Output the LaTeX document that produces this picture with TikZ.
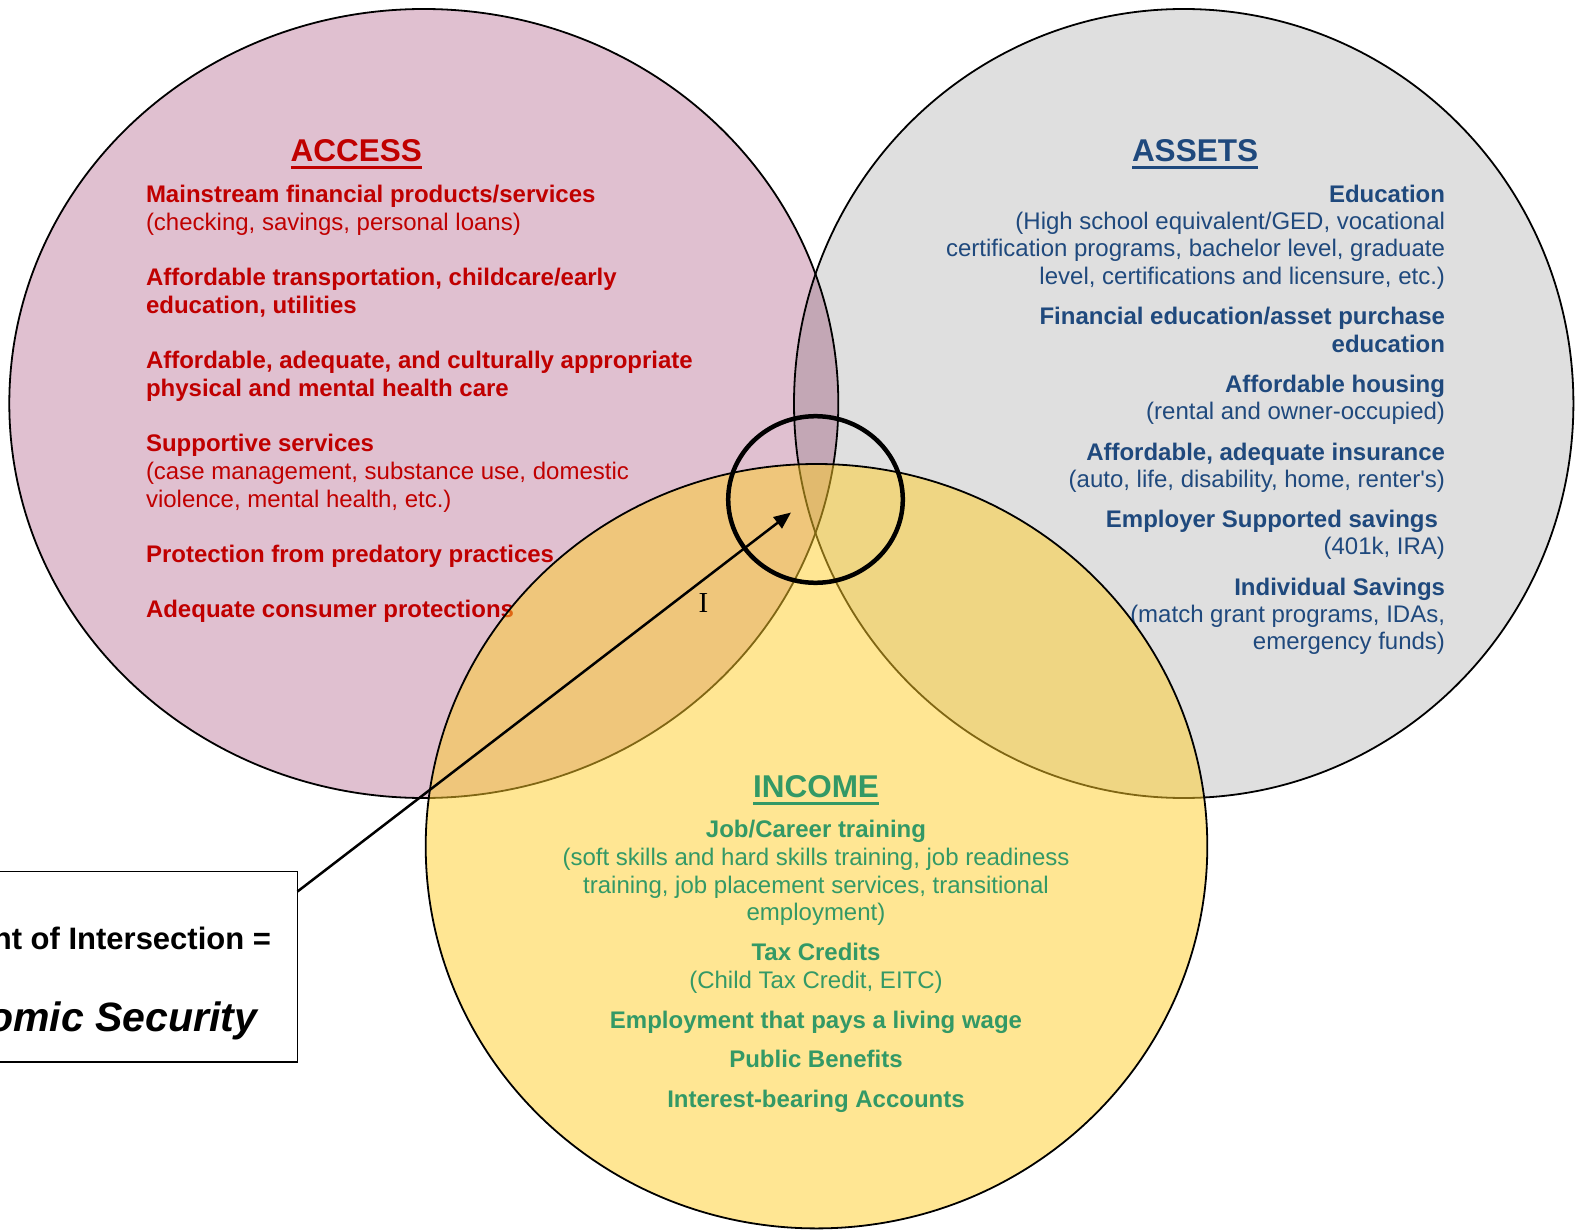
\documentclass[tikz,border=0pt]{standalone}
\usepackage{fontspec}
\setmainfont{Liberation Sans}[Ligatures=TeXOff]
\newfontfamily\serifI{Liberation Serif}
\usetikzlibrary{arrows.meta,shapes.geometric}
\definecolor{accred}{RGB}{192,0,0}
\definecolor{asblue}{RGB}{31,73,125}
\definecolor{incgreen}{RGB}{51,153,102}
\definecolor{pinkfill}{RGB}{224,192,208}
\definecolor{yelbase}{RGB}{255,205,40}
\newcommand\titleul[1]{\setbox0=\hbox{#1}\rlap{\rule[-7.5pt]{\wd0}{3pt}}\box0}
\tikzset{
  txt/.style={inner sep=0pt, outer sep=0pt},
  rb/.style={txt, font=\fontsize{24}{28}\selectfont\bfseries},
  rr/.style={txt, font=\fontsize{24}{28}\selectfont},
  ttl/.style={txt, anchor=base, font=\fontsize{31.5}{36}\selectfont\bfseries},
  venn/.style={draw=black, line width=1.8pt},
}
\begin{document}
\begin{tikzpicture}[x=1pt,y=-1pt]
\useasboundingbox (0,0) rectangle (1576,1230);
\clip (0,0) rectangle (1576,1230);
% circles
\draw[venn, fill=pinkfill] (423.8,403.5) ellipse [x radius=414.5pt, y radius=394.5pt];
\draw[venn, fill=black, fill opacity=0.125] (1183.7,403.5) ellipse [x radius=389.7pt, y radius=394.5pt];
% ACCESS
\begin{scope}[text=accred, nodes={anchor=base west}]
\node[ttl, anchor=base] (acct) at (356.3,162) {\titleul{ACCESS}};
\node[rb] (a1) at (146,202.5) {Mainstream financial products/services};
\node[rr] (a2) at (146,230.2) {(checking, savings, personal loans)};
\node[rb] (a3) at (146,285.5) {Affordable transportation, childcare/early};
\node[rb] (a4) at (146,313.2) {education, utilities};
\node[rb] (a5) at (146,368.6) {Affordable, adequate, and culturally appropriate};
\node[rb] (a6) at (146,396.3) {physical and mental health care};
\node[rb] (a7) at (146,451.6) {Supportive services};
\node[rr] (a8) at (146,479.3) {(case management, substance use, domestic};
\node[rr] (a9) at (146,507) {violence, mental health, etc.)};
\node[rb] (a10) at (146,562.4) {Protection from predatory practices};
\node[rb] (a11) at (146,617.7) {Adequate consumer protections};
\end{scope}
% ASSETS
\begin{scope}[text=asblue, nodes={anchor=base east}]
\node[ttl, anchor=base] (asst) at (1195,162) {\titleul{ASSETS}};
\node[rb] (s1) at (1445,202.5) {Education};
\node[rr] (s2) at (1445,229.6) {(High school equivalent/GED, vocational};
\node[rr] (s3) at (1445,257) {certification programs, bachelor level, graduate};
\node[rr] (s4) at (1445,284.5) {level, certifications and licensure, etc.)};
\node[rb] (s5) at (1445,325) {Financial education/asset purchase};
\node[rb] (s6) at (1445,352.2) {education};
\node[rb] (s7) at (1445,392.4) {Affordable housing};
\node[rr] (s8) at (1445,419.6) {(rental and owner-occupied)};
\node[rb] (s9) at (1445,460) {Affordable, adequate insurance};
\node[rr] (s10) at (1445,487) {(auto, life, disability, home, renter's)};
\node[rb] (s11) at (1445,527) {Employer Supported savings\kern7pt};
\node[rr] (s12) at (1445,554) {(401k, IRA)};
\node[rb] (s13) at (1445,595.5) {Individual Savings};
\node[rr] (s14) at (1445,622.6) {(match grant programs, IDAs,};
\node[rr] (s15) at (1445,649.7) {emergency funds)};
\end{scope}
% INCOME circle
\draw[venn, fill=yelbase, fill opacity=0.5] (816.5,846.2) ellipse [x radius=390.8pt, y radius=382.2pt];
\begin{scope}[text=incgreen, nodes={anchor=base}]
\node[ttl] (inct) at (816,797) {\titleul{INCOME}};
\node[rb] (i1) at (816,837.7) {Job/Career training};
\node[rr] (i2) at (816,865.8) {(soft skills and hard skills training, job readiness};
\node[rr] (i3) at (816,893) {training, job placement services, transitional};
\node[rr] (i4) at (816,920.2) {employment)};
\node[rb] (i5) at (816,960.3) {Tax Credits};
\node[rr] (i6) at (816,988.4) {(Child Tax Credit, EITC)};
\node[rb] (i7) at (816,1028.6) {Employment that pays a living wage};
\node[rb] (i8) at (816,1067.8) {Public Benefits};
\node[rb] (i9) at (816,1107) {Interest-bearing Accounts};
\end{scope}
% point of intersection ring
\node[ellipse, draw=black, line width=4.5pt, minimum width=174.6pt, minimum height=166.6pt, inner sep=0pt, outer sep=0pt] (focus) at (815.5,499.5) {};
% callout box
\node[draw=black, line width=1.5pt, fill=white, minimum width=397.5pt, minimum height=190.5pt, inner sep=0pt, outer sep=0pt] (box) at (98.75,966.75) {};
\node[txt, anchor=base east, font=\fontsize{31}{36}\selectfont\bfseries] (boxl1) at (271,949) {Point of Intersection =};
\node[txt, anchor=base east, font=\fontsize{41}{46}\selectfont\bfseries\itshape] (boxl2) at (257,1031) {Economic Security};
\coordinate (start) at (297.5,891.5);
\coordinate (tip) at (791,512.5);
\draw[line width=2.5pt, -{Triangle[length=17pt,width=14pt]}] (start) -- (tip);
\node[txt, anchor=center, font=\fontsize{29}{32}\selectfont\serifI] (ilab) at (703.5,603) {I};
\end{tikzpicture}
\end{document}
